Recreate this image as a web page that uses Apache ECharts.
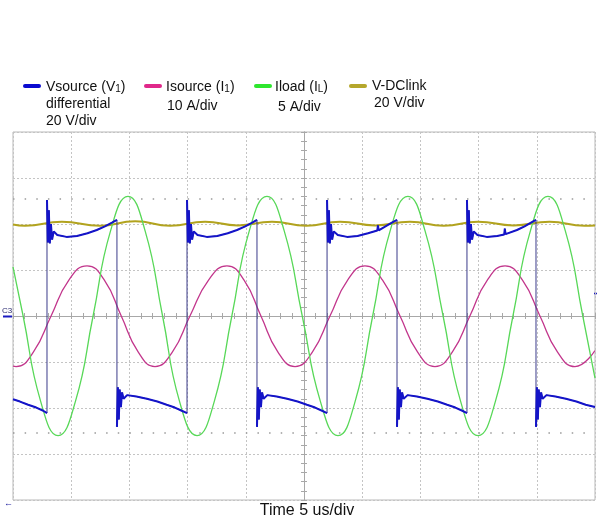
<!DOCTYPE html>
<html>
<head>
<meta charset="utf-8">
<script src="https://cdn.jsdelivr.net/npm/echarts@6/dist/echarts.min.js"></script>
<style>
html,body{margin:0;padding:0;background:#fff;}
#chart{width:597px;height:521px;}
</style>
</head>
<body>
<div id="chart"></div>
<script>
// Time axis in microseconds relative to screen centre (5 us/div, 10 divisions)
const timeRange = [-25, 25];
const timeInterval = 5;
// Vertical axis in screen divisions (8 divisions)
const divRange = [-4, 4];
const divInterval = 1;
// dotted marker rows seen on the screen
const markerLevels = [2.54, -2.54];

// Channel names / scales (legend text)
const legendNames = ['Vsource (V1)', 'Isource (I1)', 'Iload (IL)', 'V-DClink'];
const legendScales = ['differential\n20 V/div', '10 A/div', '5 A/div', '20 V/div'];

// Vsource, differential, in divisions (20 V/div)
const vsource = [
  [-25, -1.81], [-24.4, -1.86], [-23.7, -1.93], [-23.0, -1.99], [-22.4, -2.06], [-22.08, -2.11],
  [-22.08, 2.52], [-22.0, 1.6], [-21.92, 2.3], [-21.84, 1.58], [-21.74, 2.0], [-21.64, 1.66], [-21.5, 1.84], [-21.2, 1.76], [-20.4, 1.72], [-19.5, 1.74], [-18.6, 1.80], [-17.8, 1.87], [-17.1, 1.95], [-16.5, 2.03], [-16.07, 2.09],
  [-16.07, -2.41], [-15.99, -1.55], [-15.91, -2.25], [-15.83, -1.6], [-15.73, -1.98], [-15.63, -1.66], [-15.5, -1.8], [-15.2, -1.72], [-14.4, -1.75], [-13.5, -1.80], [-12.6, -1.86], [-11.8, -1.93], [-11.1, -1.99], [-10.5, -2.06], [-10.05, -2.11],
  [-10.05, 2.52], [-9.97, 1.6], [-9.89, 2.3], [-9.81, 1.58], [-9.71, 2.0], [-9.61, 1.66], [-9.47, 1.84], [-9.15, 1.76], [-8.35, 1.72], [-7.45, 1.74], [-6.55, 1.80], [-5.75, 1.87], [-5.05, 1.95], [-4.45, 2.03], [-4.04, 2.09],
  [-4.04, -2.41], [-3.96, -1.55], [-3.88, -2.25], [-3.8, -1.6], [-3.7, -1.98], [-3.6, -1.66], [-3.47, -1.8], [-3.15, -1.72], [-2.35, -1.75], [-1.45, -1.80], [-0.55, -1.86], [0.25, -1.93], [0.95, -1.99], [1.55, -2.06], [1.98, -2.11],
  [1.98, 2.52], [2.06, 1.6], [2.14, 2.3], [2.22, 1.58], [2.32, 2.0], [2.42, 1.66], [2.56, 1.84], [2.9, 1.76], [3.7, 1.72], [4.6, 1.74], [5.5, 1.80], [6.3, 1.86], [6.35, 1.97], [6.42, 1.86], [7.0, 1.95], [7.55, 2.03], [7.99, 2.09],
  [7.99, -2.41], [8.07, -1.55], [8.15, -2.25], [8.23, -1.6], [8.33, -1.98], [8.43, -1.66], [8.56, -1.8], [8.9, -1.72], [9.7, -1.75], [10.6, -1.80], [11.5, -1.86], [12.3, -1.93], [13.0, -1.99], [13.6, -2.06], [14.0, -2.11],
  [14.0, 2.52], [14.08, 1.6], [14.16, 2.3], [14.24, 1.58], [14.34, 2.0], [14.44, 1.66], [14.58, 1.84], [14.9, 1.76], [15.7, 1.72], [16.6, 1.74], [17.2, 1.77], [17.25, 1.9], [17.32, 1.78], [18.3, 1.87], [18.95, 1.95], [19.5, 2.03], [19.93, 2.09],
  [19.93, -2.41], [20.01, -1.55], [20.09, -2.25], [20.17, -1.6], [20.27, -1.98], [20.37, -1.66], [20.5, -1.8], [20.83, -1.72], [21.6, -1.75], [22.5, -1.80], [23.4, -1.86], [24.2, -1.93], [25, -1.98]
];

// Isource in divisions (10 A/div)
const isource = [
  [-25, -1.09], [-24.74, -1.1], [-23.24, -0.78], [-21.73, 0], [-20.2, 0.78], [-18.64, 1.09], [-17.15, 0.78], [-15.7, 0], [-14.25, -0.78],
  [-12.8, -1.1], [-11.3, -0.78], [-9.8, 0], [-8.2, 0.78], [-6.62, 1.09], [-5.15, 0.78], [-3.7, 0], [-2.25, -0.78],
  [-0.77, -1.1], [0.73, -0.78], [2.23, 0], [3.75, 0.78], [5.24, 1.09], [6.75, 0.78], [8.25, 0], [9.75, -0.78],
  [11.25, -1.1], [12.75, -0.78], [14.25, 0], [15.75, 0.78], [17.27, 1.09], [18.77, 0.78], [20.27, 0], [21.77, -0.78],
  [23.28, -1.1], [25, -0.75]
];

// Iload in divisions (5 A/div)
const iload = [
  [-25, 1.07], [-24.13, 0], [-22.63, -1.85], [-21.13, -2.6], [-19.63, -1.85], [-18.12, 0], [-16.62, 1.85], [-15.12, 2.6],
  [-13.65, 1.85], [-12.15, 0], [-10.7, -1.85], [-9.19, -2.6], [-7.7, -1.85], [-6.2, 0], [-4.7, 1.85], [-3.18, 2.6],
  [-1.7, 1.85], [-0.15, 0], [1.4, -1.85], [2.92, -2.6], [4.4, -1.85], [5.9, 0], [7.4, 1.85], [8.93, 2.6],
  [10.4, 1.85], [11.95, 0], [13.45, -1.85], [14.95, -2.6], [16.45, -1.85], [17.95, 0], [19.45, 1.85], [20.96, 2.6],
  [22.45, 1.85], [23.95, 0], [25, -1.35]
];

// V-DClink in divisions (20 V/div)
const vdclink = [
  [-25, 1.99], [-23.97, 1.96], [-20.8, 2.05], [-17.53, 1.96], [-14.5, 2.06], [-11.5, 1.96], [-8.5, 2.05], [-5.7, 1.97],
  [-2.75, 2.05], [0.2, 1.96], [3.1, 2.05], [6.1, 1.97], [9.1, 2.05], [12.0, 1.96], [14.95, 2.05], [18.0, 1.97],
  [21.1, 2.05], [24.1, 1.96], [25, 1.97]
];

const FONT = "'Liberation Sans', Arial, sans-serif";
const C_BLUE = '#1414c8', C_EDGE = '#3b3b8a', C_MAG = '#c2368c', C_GRN = '#58d858', C_OLV = '#b2a31e';
const L_BLUE = '#0a0ad0', L_MAG = '#e0288a', L_GRN = '#2ee62e', L_OLV = '#b5a72c';

// thick plateau trace: break the line at the fast edges
const vsourceThick = [];
vsource.forEach((p, i) => {
  vsourceThick.push(p);
  const n = vsource[i + 1];
  if (n && n[0] === p[0] && Math.abs(n[1] - p[1]) > 1) vsourceThick.push([p[0], '-']);
});

const chart = echarts.init(document.getElementById('chart'), null, {renderer: 'canvas'});

const gridLine = {show: true, lineStyle: {color: '#c4c4c4', width: 1, type: [2, 2]}};
const axisBase = (extra) => Object.assign({
  type: 'value',
  axisLabel: {show: false},
  axisLine: {show: true, onZero: true, lineStyle: {color: '#a8a8a8', width: 1}},
  axisTick: {show: true, inside: false, length: 3, lineStyle: {color: '#a8a8a8'}},
  minorTick: {show: true, splitNumber: 5, length: 3, lineStyle: {color: '#a8a8a8'}},
  splitLine: {show: false}
}, extra);

function legendText(x, y, rich) {
  return {type: 'text', x: x, y: y, style: {
    text: rich, fill: '#111', font: '14px ' + FONT, verticalAlign: 'middle',
    rich: {
      n: {fontSize: 14, fontFamily: FONT, fill: '#111', lineHeight: 16, verticalAlign: 'bottom'},
      s: {fontSize: 10, fontFamily: FONT, fill: '#111', lineHeight: 13, verticalAlign: 'bottom'}
    }
  }};
}
function plainText(x, y, t, size) {
  return {type: 'text', x: x, y: y, style: {text: t, fill: '#111', font: size + 'px ' + FONT, verticalAlign: 'middle'}};
}
function icon(x, y, color) {
  return {type: 'rect', shape: {x: x, y: y - 2, width: 18, height: 4, r: 2}, style: {fill: color}};
}
const scaleLines = legendScales.map(s => s.split('\n'));

chart.setOption({
  animation: false,
  backgroundColor: '#ffffff',
  grid: {left: 13, top: 132, width: 582, height: 368, show: true, borderColor: '#b8b8b8', borderWidth: 1, backgroundColor: 'transparent'},
  xAxis: [
    axisBase({position: 'bottom', min: timeRange[0], max: timeRange[1], interval: timeInterval, splitLine: gridLine}),
    axisBase({position: 'top', min: timeRange[0], max: timeRange[1], interval: timeInterval})
  ],
  yAxis: [
    axisBase({position: 'left', min: divRange[0], max: divRange[1], interval: divInterval, splitLine: gridLine}),
    axisBase({position: 'right', min: divRange[0], max: divRange[1], interval: divInterval})
  ],
  series: [
    {name: legendNames[3], type: 'line', data: vdclink, smooth: 0.5, symbol: 'none', lineStyle: {color: C_OLV, width: 2}, z: 3,
     markLine: {silent: true, symbol: ['none', 'none'], label: {show: false},
       lineStyle: {color: '#9a9a9a', width: 1.5, type: [1.5, 10.14]},
       data: markerLevels.map(v => ({yAxis: v}))}},
    {name: legendNames[1], type: 'line', data: isource, smooth: 0.5, symbol: 'none', lineStyle: {color: C_MAG, width: 1.3}, z: 4},
    {name: legendNames[2], type: 'line', data: iload, smooth: 0.5, symbol: 'none', lineStyle: {color: C_GRN, width: 1.3}, z: 5},
    {name: legendNames[0] + ' edges', type: 'line', data: vsource, symbol: 'none', lineStyle: {color: C_EDGE, width: 1}, z: 6},
    {name: legendNames[0], type: 'line', data: vsourceThick, symbol: 'none', connectNulls: false, lineStyle: {color: C_BLUE, width: 2}, z: 7}
  ],
  graphic: [
    icon(23, 86, L_BLUE), legendText(46, 86, '{n|Vsource (V}{s|1}{n|)}'),
    plainText(46, 104, scaleLines[0][0], 14), plainText(46, 121, scaleLines[0][1], 14),
    icon(144, 86, L_MAG), legendText(166, 86, '{n|Isource (I}{s|1}{n|)}'),
    plainText(167, 106, scaleLines[1][0], 14),
    icon(254, 86, L_GRN), legendText(275, 86, '{n|Iload (I}{s|L}{n|)}'),
    plainText(278, 107, scaleLines[2][0], 14),
    icon(349, 86, L_OLV), plainText(372, 86, legendNames[3], 14),
    plainText(374, 103, scaleLines[3][0], 14),
    {type: 'text', x: 307, y: 511, style: {text: 'Time 5 us/div', fill: '#111', font: '16px ' + FONT, align: 'center', verticalAlign: 'middle'}},
    {type: 'text', x: 2, y: 311, style: {text: 'C3', fill: '#2a2a70', font: '8px ' + FONT, verticalAlign: 'middle'}},
    {type: 'line', shape: {x1: 3, y1: 316.5, x2: 12, y2: 316.5}, style: {stroke: '#1a1ac0', lineWidth: 2}},
    {type: 'text', x: 4, y: 504, style: {text: '←', fill: '#2020a0', font: '9px ' + FONT, verticalAlign: 'middle'}},
    {type: 'line', shape: {x1: 594, y1: 293.5, x2: 597, y2: 293.5}, style: {stroke: '#1a1ac0', lineWidth: 1.5}}
  ]
});
</script>
</body>
</html>
